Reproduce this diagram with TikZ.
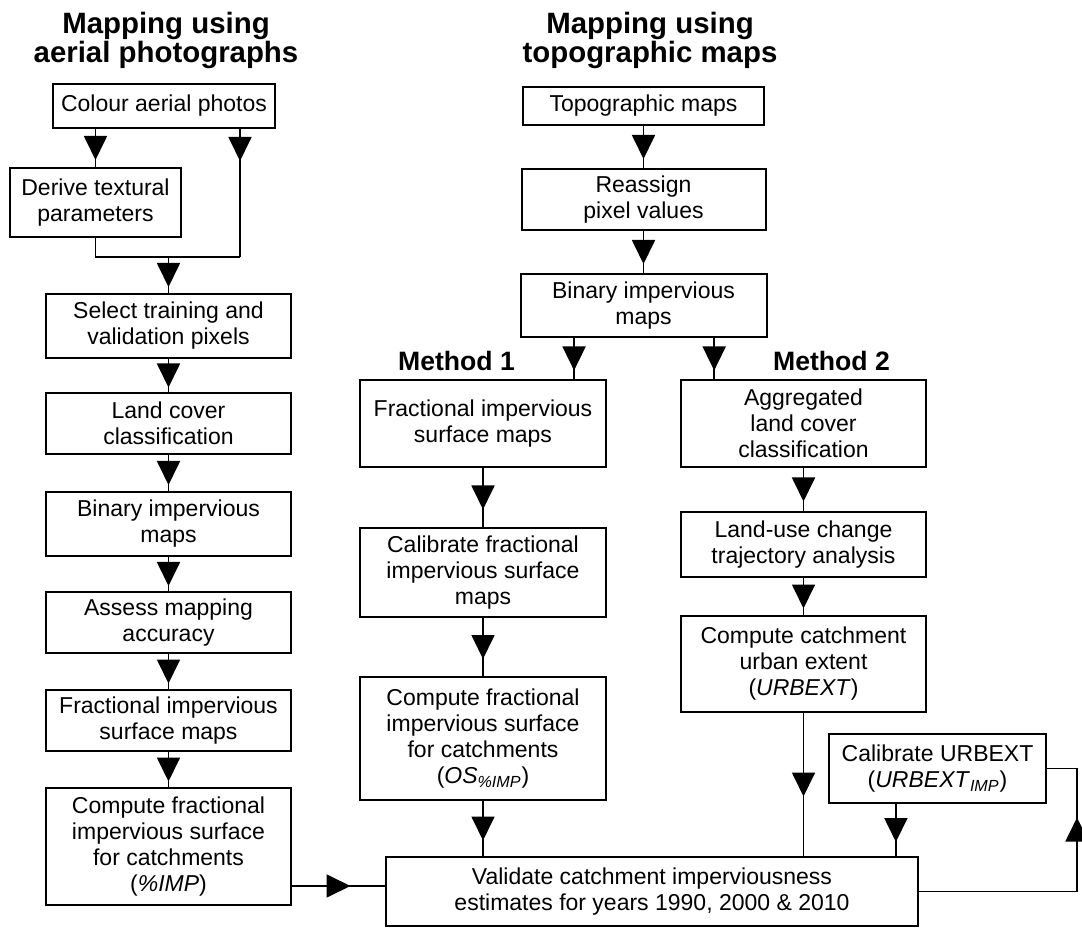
\documentclass[tikz,border=0pt]{standalone}
\usepackage{fontspec}
\setmainfont{Liberation Sans}
\usetikzlibrary{arrows.meta,decorations.markings,calc}
\begin{document}
\begin{tikzpicture}[x=0.5pt,y=-0.5pt,
  box/.style={draw,line width=1pt,inner sep=0pt,align=center,font=\fontsize{11.5}{13}\selectfont},
  ttl/.style={font=\fontsize{14.7}{14}\selectfont\bfseries,anchor=base,inner sep=0pt},
  mth/.style={font=\fontsize{13.3}{14}\selectfont\bfseries,inner sep=0pt},
  con/.style={line width=0.9pt},
  arrat/.style={con,decoration={markings,mark=at position #1 with {\arrow[xshift=6pt]{Triangle[width=11.5pt,length=12pt]}}},postaction={decorate}},
  midarr/.style={arrat=0.5}
]
\useasboundingbox (0,0) rectangle (1082,930);

% titles
\node[ttl] (t1a) at (166,34) {Mapping using};
\node[ttl] (t1b) at (166,63) {aerial photographs};
\node[ttl] (t2a) at (650,34) {Mapping using};
\node[ttl] (t2b) at (650,63) {topographic maps};
\node[mth] (m1) at (456.5,361) {Method 1};
\node[mth] (m2) at (831.5,361) {Method 2};

% left column
\node[box,minimum width=111pt,minimum height=22pt] (colour) at (164,106) {Colour aerial photos};
\node[box,minimum width=85.5pt,minimum height=34.5pt] (derive) at (95.5,202.5) {Derive textural\\parameters};
\node[box,minimum width=122.5pt,minimum height=32pt] (select) at (168.5,326) {Select training and\\validation pixels};
\node[box,minimum width=122.5pt,minimum height=30.5pt] (landcover) at (168.5,423.5) {Land cover\\classification};
\node[box,minimum width=122.5pt,minimum height=32pt] (binary) at (168.5,524) {Binary impervious\\maps};
\node[box,minimum width=122.5pt,minimum height=30.5pt] (assess) at (168.5,622.5) {Assess mapping\\accuracy};
\node[box,minimum width=122.5pt,minimum height=30.5pt] (frac) at (168.5,720.5) {Fractional impervious\\surface maps};
\node[box,minimum width=122.5pt,minimum height=58.5pt] (compute) at (168.5,846.5) {Compute fractional\\impervious surface\\for catchments\\(\textit{\%IMP})};

% middle column
\node[box,minimum width=120.5pt,minimum height=19pt] (topo) at (643.5,106) {Topographic maps};
\node[box,minimum width=122pt,minimum height=30.5pt] (reassign) at (643.5,199.5) {Reassign\\pixel values};
\node[box,minimum width=123pt,minimum height=31.5pt] (binary2) at (643.5,305.5) {Binary impervious\\maps};
\node[box,minimum width=123pt,minimum height=43.5pt] (frac1) at (483,423.5) {Fractional impervious\\surface maps};
\node[box,minimum width=123pt,minimum height=44.5pt] (calib1) at (483,572.5) {Calibrate fractional\\impervious surface\\maps};
\node[box,minimum width=123pt,minimum height=61.5pt] (os) at (483,738.5) {Compute fractional\\impervious surface\\for catchments\\(\textit{OS}\textsubscript{\textit{\%IMP}})};

% right column
\node[box,minimum width=122.5pt,minimum height=43.5pt] (agg) at (803.5,423.5) {Aggregated\\land cover\\classification};
\node[box,minimum width=122.5pt,minimum height=32.5pt] (landuse) at (803.5,544.5) {Land-use change\\trajectory analysis};
\node[box,minimum width=122.5pt,minimum height=48pt] (urbext) at (803.5,664) {Compute catchment\\urban extent\\(\textit{URBEXT})};
\node[box,minimum width=108.5pt,minimum height=34.5pt] (calurb) at (937.5,768.5) {Calibrate URBEXT\\(\textit{URBEXT}\textsubscript{\textit{IMP}})};

\node[box,minimum width=266pt,minimum height=34.5pt] (validate) at (652,891.5) {Validate catchment imperviousness\\estimates for years 1990, 2000 \& 2010};

% connectors left
\coordinate (j1) at (240,257);
\coordinate (lp) at (1077,0);
\draw[midarr] (colour.south -| derive.north) -- (derive.north);
\draw[arrat=10pt] (colour.south -| j1) -- (j1);
\draw[con] (derive.south) |- (j1);
\draw[midarr] (j1 -| select.north) -- (select.north);
\draw[midarr] (select) -- (landcover);
\draw[midarr] (landcover) -- (binary);
\draw[midarr] (binary) -- (assess);
\draw[midarr] (assess) -- (frac);
\draw[midarr] (frac) -- (compute);
\path ([yshift=10pt]compute.south east) coordinate (c1);
\draw[midarr] (c1) -- (c1 -| validate.west);

% connectors middle
\draw[midarr] (topo) -- (reassign);
\draw[midarr] (reassign) -- (binary2);
\path ($(binary2.south west)!0.22!(binary2.south east)$) coordinate (b1);
\path ($(binary2.south west)!0.785!(binary2.south east)$) coordinate (b2);
\draw[midarr] (b1) -- (b1 |- frac1.north);
\draw[midarr] (b2) -- (b2 |- agg.north);
\draw[midarr] (frac1) -- (calib1);
\draw[midarr] (calib1) -- (os);
\draw[midarr] (os.south) -- (os.south |- validate.north);

% connectors right
\draw[midarr] (agg) -- (landuse);
\draw[midarr] (landuse) -- (urbext);
\draw[midarr] (urbext.south) -- (urbext.south |- validate.north);
\path ($(calurb.south west)!0.31!(calurb.south east)$) coordinate (u1);
\draw[midarr] (u1) -- (u1 |- validate.north);
\draw[arrat=110pt] (validate.east) -- (validate.east -| lp) -- (lp |- calurb.east) -- (calurb.east);
\end{tikzpicture}
\end{document}
